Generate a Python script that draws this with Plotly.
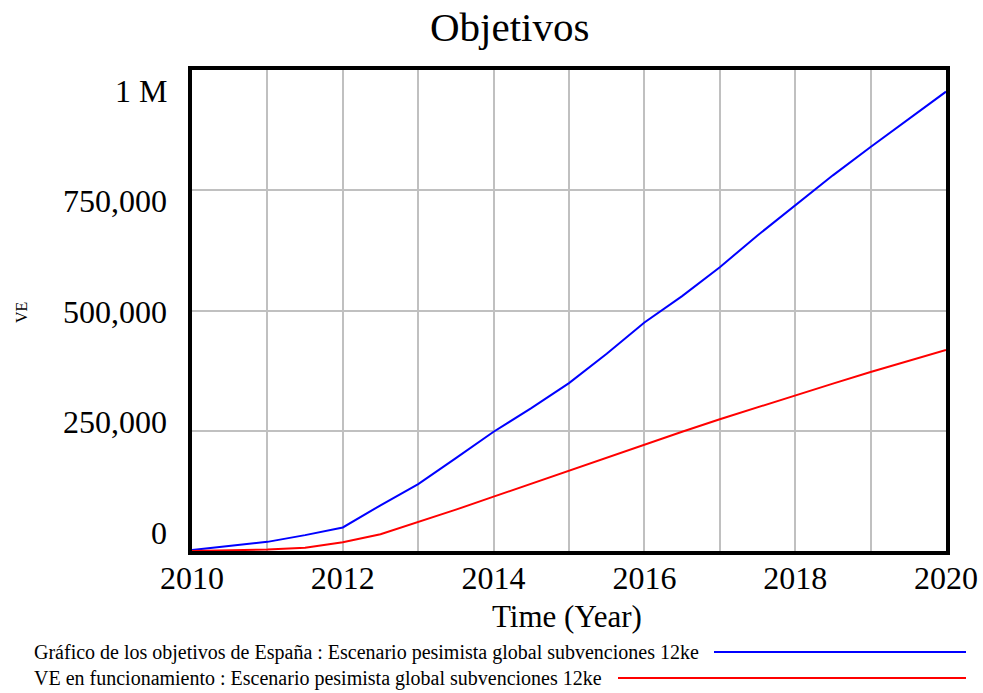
import plotly.graph_objects as go

# Simulation output (half-year samples), vehicles
years = [2010, 2010.5, 2011, 2011.5, 2012, 2012.5, 2013, 2013.5, 2014, 2014.5,
         2015, 2015.5, 2016, 2016.5, 2017, 2017.5, 2018, 2018.5, 2019, 2019.5, 2020]
objetivos_espana = [2000, 10000, 19000, 33000, 49000, 95000, 139000, 193000, 248000, 297000,
                    349000, 410000, 475000, 530000, 590000, 656000, 719000, 781000, 840000, 897000, 955000]
ve_funcionamiento = [0, 1000, 3000, 7000, 18000, 35000, 60000, 86000, 113000, 140000,
                     167000, 195000, 222000, 248000, 274000, 299000, 323000, 348000, 372000, 395000, 418000]

series_names = [
    "Gráfico de los objetivos de España : Escenario pesimista global subvenciones 12ke",
    "VE en funcionamiento : Escenario pesimista global subvenciones 12ke",
]
series_colors = ["#0000ff", "#ff0000"]

x_ticks = [2010, 2012, 2014, 2016, 2018, 2020]
x_grid = list(range(2010, 2021))
y_ticks = [0, 250000, 500000, 750000, 1000000]
y_tick_labels = ["0", "250,000", "500,000", "750,000", "1 M"]

W, H = 983, 693
L, R, T, B = 192, 946, 70, 551
FONT = "Liberation Serif, Times New Roman, serif"

def px_x(p):
    return (p - L) / (R - L)

def px_y(p):
    return (B - p) / (B - T)

fig = go.Figure()
for vals, name, col in zip([objetivos_espana, ve_funcionamiento], series_names, series_colors):
    fig.add_trace(go.Scatter(x=years, y=vals, mode="lines", name=name,
                             line=dict(color=col, width=2), showlegend=False))

fig.update_layout(
    width=W, height=H, autosize=False,
    margin=dict(l=L, r=W - R, t=T, b=H - B),
    paper_bgcolor="white", plot_bgcolor="white",
    font=dict(family=FONT, color="black"),
)
fig.update_xaxes(
    range=[2010, 2020], tickvals=x_grid,
    ticktext=[str(y) if y in x_ticks else "" for y in x_grid],
    showgrid=True, gridcolor="#c0c0c0", gridwidth=2,
    showline=True, linecolor="black", linewidth=4, mirror=True,
    ticks="", tickfont=dict(size=32, family=FONT), zeroline=False,
    automargin=False, ticklabelstandoff=-4,
)
fig.update_yaxes(
    range=[0, 1000000], tickvals=y_ticks, showticklabels=False,
    showgrid=True, gridcolor="#c0c0c0", gridwidth=2,
    showline=True, linecolor="black", linewidth=4, mirror=True,
    ticks="", zeroline=False, automargin=False,
)

# Y tick labels, spread inside the axis span
label_centres = [533, 422, 312, 201, 91]
for txt, yc in zip(y_tick_labels, label_centres):
    fig.add_annotation(text=txt, xref="paper", yref="paper",
                       x=px_x(169), y=px_y(yc), xanchor="right", yanchor="middle",
                       showarrow=False, font=dict(size=32, family=FONT))

# Title and axis titles
fig.add_annotation(text="Objetivos", xref="paper", yref="paper",
                   x=px_x(509), y=px_y(27), xanchor="center", yanchor="middle",
                   showarrow=False, font=dict(size=41, family=FONT))
fig.add_annotation(text="Time (Year)", xref="paper", yref="paper",
                   x=px_x(567), y=px_y(616), xanchor="center", yanchor="middle",
                   showarrow=False, font=dict(size=31, family=FONT))
fig.add_annotation(text="VE", xref="paper", yref="paper",
                   x=px_x(21), y=px_y(313), xanchor="center", yanchor="middle",
                   textangle=-90, showarrow=False, font=dict(size=16, family=FONT))

# Legend rows below the chart
legend_rows = [(652, 714), (678, 618)]
for (yc, line_start), name, col in zip(legend_rows, series_names, series_colors):
    fig.add_annotation(text=name, xref="paper", yref="paper",
                       x=px_x(32), y=px_y(yc), xanchor="left", yanchor="middle",
                       showarrow=False, font=dict(size=20, family=FONT))
    fig.add_shape(type="line", xref="paper", yref="paper",
                  x0=px_x(line_start), x1=px_x(966), y0=px_y(yc), y1=px_y(yc),
                  line=dict(color=col, width=2))

fig.write_html("out.html", config={"responsive": False})
